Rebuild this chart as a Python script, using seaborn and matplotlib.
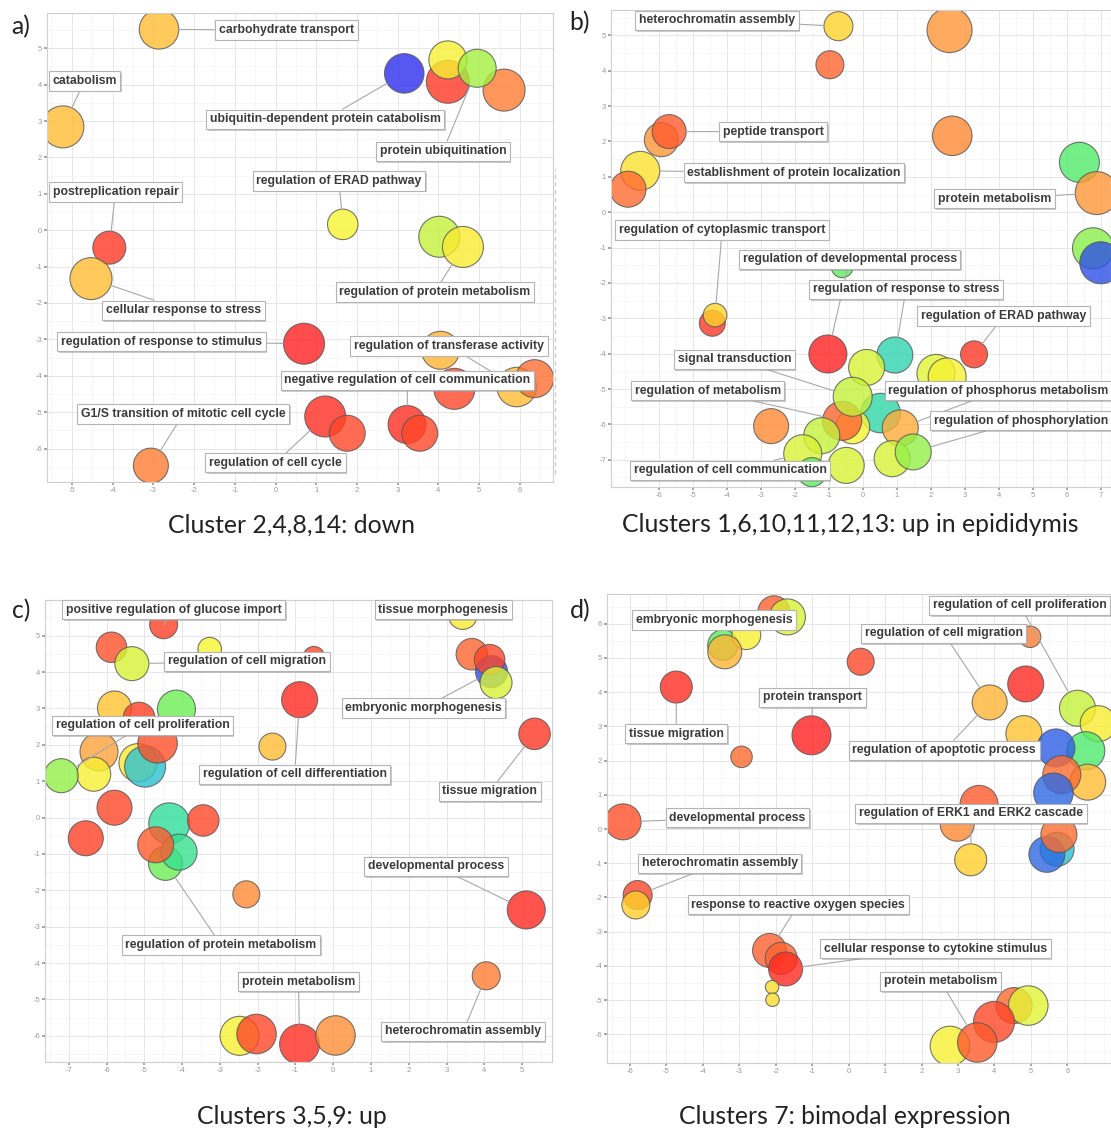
import pandas as pd
import seaborn as sns
import matplotlib.pyplot as plt
import matplotlib.patheffects as pe
from matplotlib.lines import Line2D
from matplotlib.colors import LinearSegmentedColormap
from matplotlib.ticker import AutoMinorLocator

# ---- panel a: Cluster 2,4,8,14: down ----
x_a = [-2.86, -5.22, 3.16, 5.61, 4.23, 4.23, 4.95, 1.65, -4.08, -4.53, 4.02, 4.60,
       0.70, 4.05, 4.39, 5.92, 6.36, 1.22, 1.76, 3.23, 3.54, -3.06]
y_a = [5.52, 2.84, 4.31, 3.85, 4.08, 4.68, 4.45, 0.16, -0.48, -1.33, -0.18, -0.46,
       -3.12, -3.30, -4.36, -4.31, -4.08, -5.12, -5.58, -5.34, -5.58, -6.47]
size_a = [3.95, 4.2, 3.95, 4.2, 4.3, 3.8, 3.8, 3.05, 3.3, 4.2, 4.1, 4.1,
          4.1, 3.8, 4.1, 3.95, 3.8, 4.1, 3.6, 3.8, 3.6, 3.5]
val_a = [0.70, 0.70, 0.0, 0.82, 0.95, 0.52, 0.38, 0.50, 0.95, 0.70, 0.42, 0.55,
         1.0, 0.72, 0.92, 0.70, 0.84, 0.97, 0.92, 0.97, 0.92, 0.82]
lab_a = ["carbohydrate transport", "catabolism", "ubiquitin-dependent protein catabolism",
         "protein ubiquitination", "regulation of ERAD pathway", "postreplication repair",
         "regulation of protein metabolism", "cellular response to stress",
         "regulation of response to stimulus", "regulation of transferase activity",
         "negative regulation of cell communication", "G1/S transition of mitotic cell cycle",
         "regulation of cell cycle"]
tgt_a = [0, 1, 2, 6, 7, 8, 11, 9, 12, 15, 19, 21, 17]
pos_a = [(0.27, 5.50), (-4.69, 4.10), (1.22, 3.05), (4.11, 2.17), (1.56, 1.35), (-3.93, 1.05),
         (3.91, -1.70), (-2.26, -2.20), (-2.80, -3.06), (4.26, -3.18), (3.24, -4.13),
         (-2.26, -5.05), (0.0, -6.39)]

# ---- panel b: Clusters 1,6,10,11,12,13: up in epididymis ----
x_b = [-0.72, 2.55, -0.97, -5.93, -5.70, -6.55, -6.91, 2.63, 6.37, 6.88, 6.77, 7.00,
       -0.61, -4.43, -4.35, -1.03, 0.94, 3.27, 0.11, 2.15, 2.48, 0.52, -2.70, -0.30,
       -0.61, 1.10, -0.30, -1.21, -1.77, -1.50, -0.49, 0.86, 1.48]
y_b = [5.26, 5.15, 4.17, 2.05, 2.28, 1.17, 0.65, 2.16, 1.41, 0.54, -1.02, -1.43,
       -1.54, -3.14, -2.91, -4.01, -4.04, -4.02, -4.39, -4.56, -4.66, -5.68, -6.05, -6.07,
       -5.90, -6.10, -5.22, -6.32, -6.83, -7.35, -7.16, -6.97, -6.78]
size_b = [2.9, 4.5, 2.8, 3.4, 3.4, 3.9, 3.6, 3.95, 4.0, 4.3, 4.1, 4.2,
          2.2, 2.6, 2.35, 3.8, 3.6, 2.7, 3.6, 3.8, 3.8, 3.95, 3.5, 3.4,
          3.9, 3.6, 3.9, 3.6, 3.8, 2.9, 3.6, 3.6, 3.6]
val_b = [0.64, 0.78, 0.86, 0.78, 0.88, 0.58, 0.85, 0.80, 0.28, 0.78, 0.35, 0.03,
         0.30, 0.95, 0.64, 1.0, 0.17, 0.95, 0.45, 0.47, 0.52, 0.18, 0.80, 0.50,
         0.86, 0.74, 0.42, 0.42, 0.45, 0.30, 0.45, 0.45, 0.36]
lab_b = ["heterochromatin assembly", "peptide transport", "establishment of protein localization",
         "protein metabolism", "regulation of cytoplasmic transport",
         "regulation of developmental process", "regulation of response to stress",
         "regulation of ERAD pathway", "signal transduction", "regulation of metabolism",
         "regulation of phosphorus metabolism", "regulation of phosphorylation",
         "regulation of cell communication"]
tgt_b = [0, 4, 5, 9, 14, 15, 16, 17, 26, 24, 25, 32, 28]
pos_b = [(-4.29, 5.43), (-2.64, 2.28), (-2.03, 1.12), (3.87, 0.38), (-4.14, -0.50),
         (-0.39, -1.33), (1.27, -2.18), (4.14, -2.94), (-3.78, -4.16), (-4.57, -5.05),
         (3.99, -5.05), (4.65, -5.90), (-3.91, -7.30)]

# ---- panel c: Clusters 3,5,9: up ----
x_c = [-4.49, -5.87, -3.27, -0.51, -5.33, 3.43, 3.67, 4.19, 4.14, 4.31, -0.89, -5.79,
       -4.15, -5.14, -6.20, -5.17, -4.98, -4.65, -6.34, -7.20, -1.61, -5.79, -6.55, -4.34,
       -3.44, -4.44, -4.08, -4.70, -2.30, 5.33, 5.11, 4.05, -2.48, -2.03, -0.89, 0.06]
y_c = [5.30, 4.68, 4.63, 4.40, 4.23, 5.57, 4.49, 4.01, 4.34, 3.71, 3.24, 3.01,
       2.98, 2.73, 1.81, 1.51, 1.40, 2.04, 1.19, 1.15, 1.95, 0.27, -0.57, -0.16,
       -0.08, -1.26, -0.95, -0.75, -2.11, 2.30, -2.54, -4.35, -6.00, -5.95, -6.23, -5.99]
size_c = [2.8, 3.05, 2.35, 2.2, 3.4, 2.9, 3.15, 3.2, 3.05, 3.2, 3.6, 3.4,
          3.8, 3.2, 3.8, 3.8, 4.1, 3.95, 3.4, 3.4, 2.7, 3.5, 3.5, 4.1,
          3.15, 3.4, 3.6, 3.6, 2.7, 3.15, 3.8, 2.8, 3.9, 3.95, 4.0, 3.95]
val_c = [0.93, 0.90, 0.50, 0.92, 0.45, 0.55, 0.86, 0.03, 0.92, 0.45, 0.98, 0.68,
         0.32, 0.93, 0.76, 0.55, 0.12, 0.90, 0.52, 0.36, 0.70, 0.92, 0.93, 0.20,
         0.92, 0.32, 0.22, 0.88, 0.80, 0.95, 0.98, 0.82, 0.52, 0.92, 0.97, 0.79]
lab_c = ["positive regulation of glucose import", "tissue morphogenesis",
         "regulation of cell migration", "embryonic morphogenesis",
         "regulation of cell proliferation", "regulation of cell differentiation",
         "tissue migration", "developmental process", "regulation of protein metabolism",
         "protein metabolism", "heterochromatin assembly"]
tgt_c = [0, 5, 4, 7, 19, 10, 29, 30, 25, 34, 31]
pos_c = [(-4.22, 5.71), (2.91, 5.71), (-2.28, 4.29), (2.39, 3.01), (-5.05, 2.53),
         (-1.02, 1.19), (4.14, 0.72), (2.72, -1.34), (-2.97, -3.50), (-0.92, -4.51),
         (3.44, -5.88)]

# ---- panel d: Clusters 7: bimodal expression ----
x_d = [-2.05, -1.68, -3.45, -2.81, -3.40, 0.33, -4.73, -1.02, -2.94, 4.98, 4.86, 3.87,
       4.81, 6.28, 6.85, 6.51, 5.69, 6.56, 5.85, 5.62, 3.58, 2.98, 5.72, 5.44,
       5.77, 3.35, -6.19, -5.79, -5.84, -2.17, -1.85, -1.73, -2.10, -2.09, 4.54, 4.93,
       3.99, 2.78, 3.53]
y_d = [6.35, 6.20, 5.38, 5.67, 5.18, 4.89, 4.15, 2.74, 2.11, 5.62, 4.24, 3.70,
       2.79, 3.53, 3.08, 2.29, 2.37, 1.37, 1.59, 1.06, 0.72, 0.14, -0.59, -0.74,
       -0.16, -0.90, 0.21, -1.93, -2.22, -3.55, -3.78, -4.09, -4.62, -4.99, -5.16, -5.16,
       -5.64, -6.34, -6.24]
size_d = [3.2, 3.6, 3.05, 2.9, 3.4, 2.7, 3.2, 3.9, 2.15, 2.15, 3.6, 3.5,
          3.6, 3.6, 3.6, 3.8, 3.8, 3.6, 3.8, 3.95, 3.8, 3.4, 3.4, 3.6,
          3.6, 3.2, 3.6, 2.9, 2.8, 3.4, 3.2, 3.4, 1.35, 1.35, 3.6, 3.95,
          4.1, 3.95, 3.95]
val_d = [0.87, 0.45, 0.30, 0.52, 0.72, 0.92, 0.97, 1.0, 0.85, 0.82, 0.98, 0.72,
         0.68, 0.42, 0.54, 0.27, 0.04, 0.70, 0.85, 0.05, 0.88, 0.80, 0.12, 0.05,
         0.84, 0.65, 0.90, 0.92, 0.65, 0.87, 0.86, 0.98, 0.60, 0.60, 0.85, 0.47,
         0.92, 0.52, 0.88]
lab_d = ["embryonic morphogenesis", "regulation of cell proliferation",
         "regulation of cell migration", "protein transport", "tissue migration",
         "regulation of apoptotic process", "developmental process",
         "regulation of ERK1 and ERK2 cascade", "heterochromatin assembly",
         "response to reactive oxygen species", "cellular response to cytokine stimulus",
         "protein metabolism"]
tgt_d = [2, 13, 11, 7, 6, 11, 26, 25, 27, 29, 31, 38]
pos_d = [(-3.70, 6.11), (4.70, 6.54), (2.61, 5.72), (-0.99, 3.85), (-4.73, 2.79),
         (2.62, 2.30), (-3.05, 0.33), (3.36, 0.46), (-3.54, -1.00), (-1.38, -2.21),
         (2.39, -3.50), (2.52, -4.45)]

captions = ["Cluster 2,4,8,14: down", "Clusters 1,6,10,11,12,13: up in epididymis",
            "Clusters 3,5,9: up", "Clusters 7: bimodal expression"]

sns.set_theme(style="whitegrid")
plt.rcParams['font.family'] = ['Liberation Sans', 'DejaVu Sans']
plt.rcParams['axes.unicode_minus'] = False

cmap = LinearSegmentedColormap.from_list("revigo", [
    (0.0, '#2d2dee'), (0.12, '#2ec4d0'), (0.2, '#2fdc9a'), (0.3, '#5aee5a'),
    (0.4, '#b6ef3a'), (0.5, '#f6f633'), (0.65, '#ffd02a'), (0.75, '#ffa93a'),
    (0.85, '#ff6a30'), (1.0, '#ff1f1f')])


def panel(ax, xs, ys, sz, val, labs, tgt, pos, xlim, ylim, xt, yt):
    df = pd.DataFrame({'x': xs, 'y': ys, 'val': val})
    area = [(7.2 * s) ** 2 for s in sz]
    sns.scatterplot(data=df, x='x', y='y', hue='val', palette=cmap, hue_norm=(0, 1),
                    s=area, alpha=0.8, edgecolor='#555555', linewidth=0.8,
                    legend=False, ax=ax, zorder=2)
    for t, i, (lx, ly) in zip(labs, tgt, pos):
        ann = ax.annotate(t, xy=(xs[i], ys[i]), xytext=(lx, ly), ha='center', va='center',
                          fontsize=8.8, fontweight='bold', color='#3a3a3a', zorder=4,
                          bbox=dict(boxstyle='square,pad=0.3', fc='white', ec='#b4b4b4', lw=0.8),
                          arrowprops=dict(arrowstyle='-', color='#a8a8a8', lw=0.8,
                                          shrinkA=0, shrinkB=3.6 * sz[i]))
        ann.get_bbox_patch().set_path_effects(
            [pe.withSimplePatchShadow(offset=(1, -1.2), shadow_rgbFace='#9a9a9a', alpha=0.5)])
    ax.set_xlim(xlim)
    ax.set_ylim(ylim)
    ax.set_xticks(xt)
    ax.set_yticks(yt)
    ax.xaxis.set_minor_locator(AutoMinorLocator(2))
    ax.yaxis.set_minor_locator(AutoMinorLocator(2))
    ax.grid(True, which='major', color='#e6e6e6', lw=0.7)
    ax.grid(True, which='minor', color='#f3f3f3', lw=0.5)
    ax.tick_params(which='major', labelsize=5.5, colors='#9a9a9a', length=2, pad=1.5,
                   left=True, bottom=True)
    ax.tick_params(which='minor', length=0)
    ax.set_xlabel('')
    ax.set_ylabel('')
    for s in ax.spines.values():
        s.set_color('#cfcfcf')
        s.set_linewidth(0.8)
    ax.set_axisbelow(True)


fig = plt.figure(figsize=(11.11, 11.28), dpi=100)
ax_a = fig.add_axes([0.0423, 0.5727, 0.4554, 0.4158])
ax_b = fig.add_axes([0.550, 0.5683, 0.450, 0.4229])
ax_c = fig.add_axes([0.0405, 0.0585, 0.4563, 0.4096])
ax_d = fig.add_axes([0.5464, 0.0576, 0.4536, 0.4158])

panel(ax_a, x_a, y_a, size_a, val_a, lab_a, tgt_a, pos_a,
      (-5.61, 6.81), (-6.92, 5.97), range(-5, 7), range(-6, 6))
panel(ax_b, x_b, y_b, size_b, val_b, lab_b, tgt_b, pos_b,
      (-7.41, 7.3), (-7.77, 5.72), range(-6, 8), range(-7, 6))
panel(ax_c, x_c, y_c, size_c, val_c, lab_c, tgt_c, pos_c,
      (-7.63, 5.79), (-6.72, 5.98), range(-7, 6), range(-6, 6))
panel(ax_d, x_d, y_d, size_d, val_d, lab_d, tgt_d, pos_d,
      (-6.63, 7.2), (-6.84, 6.87), range(-6, 7), range(-6, 7))

# faint dashed edge of the pasted panel a image
fig.add_artist(Line2D([0.4995, 0.4995], [0.58, 0.85], color='#c8c8c8', lw=0.8,
                      ls=(0, (4, 3)), transform=fig.transFigure))

cap_font = ['Lato', 'DejaVu Sans']
for (cx, cy), txt in zip([(0.262, 0.5346), (0.765, 0.5346), (0.263, 0.0106), (0.7606, 0.0106)],
                         captions):
    fig.text(cx, cy, txt, ha='center', va='center', fontsize=17.8, color='#222222',
             family=cap_font)
for (px, py), txt in zip([(0.019, 0.976), (0.522, 0.980), (0.019, 0.459), (0.522, 0.459)],
                         ['a)', 'b)', 'c)', 'd)']):
    fig.text(px, py, txt, ha='center', va='center', fontsize=17.8, color='#222222',
             family=cap_font)

fig.savefig('out.png', dpi=100)
